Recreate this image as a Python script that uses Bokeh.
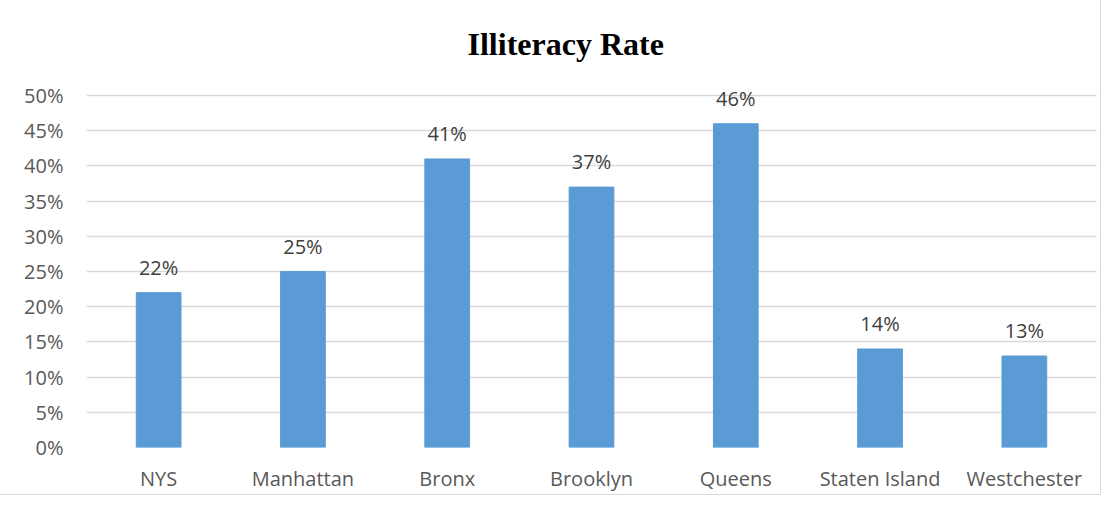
from bokeh.plotting import figure
from bokeh.models import ColumnDataSource, LabelSet, NumeralTickFormatter, FixedTicker
from bokeh.core.properties import value
from bokeh.embed import file_html
from bokeh.resources import INLINE

categories = ["NYS", "Manhattan", "Bronx", "Brooklyn", "Queens", "Staten Island", "Westchester"]
rates = [0.22, 0.25, 0.41, 0.37, 0.46, 0.14, 0.13]
labels = ["22%", "25%", "41%", "37%", "46%", "14%", "13%"]
y_ticks = [0, 0.05, 0.10, 0.15, 0.20, 0.25, 0.30, 0.35, 0.40, 0.45, 0.50]

src = ColumnDataSource(dict(cat=categories, rate=rates, label=labels))

FONT = "Open Sans"

p = figure(x_range=categories, y_range=(0, 0.53), width=1100, height=494,
           output_backend="svg", toolbar_location=None,
           min_border_left=86, min_border_right=4, min_border_top=74, min_border_bottom=37)

p.title.text = "Illiteracy Rate"
p.title.align = "left"
p.title.offset = 381
p.title.text_font = "Liberation Serif"
p.title.text_font_style = "bold"
p.title.text_font_size = "32px"
p.title.text_color = "#000000"
p.title.standoff = 26

p.vbar(x="cat", top="rate", width=0.31, source=src, color="#5B9BD5")

p.add_layout(LabelSet(x="cat", y="rate", text="label", source=src, y_offset=12,
                      text_align="center", text_baseline="bottom",
                      text_font=value(FONT), text_font_size="20px", text_color="#404040"))

p.yaxis.ticker = FixedTicker(ticks=y_ticks)
p.yaxis.formatter = NumeralTickFormatter(format="0%")
for ax in (p.xaxis, p.yaxis):
    ax.axis_line_color = None
    ax.major_tick_line_color = None
    ax.minor_tick_line_color = None
    ax.major_label_text_font = FONT
    ax.major_label_text_font_size = "20px"
    ax.major_label_text_color = "#595959"
p.yaxis.major_label_standoff = 17
p.xaxis.major_label_standoff = 11

p.xgrid.grid_line_color = None
p.ygrid.grid_line_color = "#d9d9d9"
p.ygrid.grid_line_width = 1.5
p.outline_line_color = None
p.x_range.range_padding = 0
p.styles = {"outline": "1px solid #d9d9d9"}

open("out.html", "w").write(file_html(p, INLINE))
